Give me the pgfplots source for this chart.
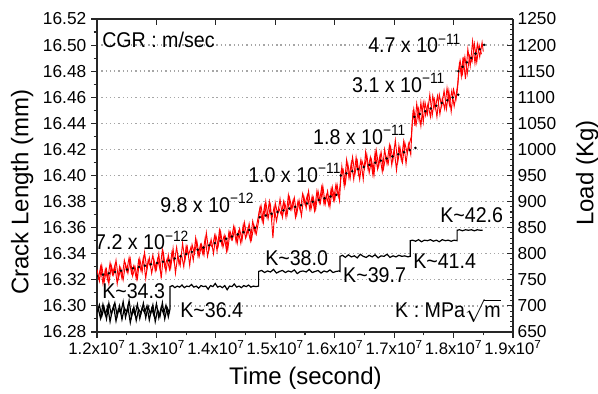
\documentclass[border=0pt]{standalone}
\usepackage{pgfplots}
\pgfplotsset{compat=1.18}
\usepackage{fontspec}
\setmainfont{Liberation Sans}
\newfontfamily\annfont[FakeStretch=0.92]{Liberation Sans}
\newcommand{\ann}{\annfont\fontsize{16}{18}\selectfont}
\newcommand{\tickfont}{\fontsize{13}{15}\selectfont}
\newcommand{\labfont}{\fontsize{18}{21}\selectfont}
\begin{document}
\begin{tikzpicture}
% ---------------- left axis: crack length ----------------
\begin{axis}[
  scale only axis, width=312pt, height=234.75pt,
  xmin=12, xmax=19, ymin=16.28, ymax=16.52,
  axis x line*=bottom, axis y line*=left,
  axis line style={line width=0.9pt, black!85},
  tick align=outside,
  xtick={12,13,14,15,16,17,18,19}, minor x tick num=1,
  ytick={16.28,16.30,16.32,16.34,16.36,16.38,16.40,16.42,16.44,16.46,16.48,16.50,16.52},
  minor y tick num=1,
  major tick length=4.5pt, minor tick length=2.5pt,
  every tick/.style={line width=0.8pt, black!85},
  xticklabels={1.2x10\textsuperscript{7},1.3x10\textsuperscript{7},1.4x10\textsuperscript{7},1.5x10\textsuperscript{7},1.6x10\textsuperscript{7},1.7x10\textsuperscript{7},1.8x10\textsuperscript{7},1.9x10\textsuperscript{7}},
  xticklabel style={font=\fontsize{12.5}{14}\selectfont, inner sep=1pt, yshift=-1pt},
  yticklabel style={font=\tickfont, /pgf/number format/.cd, fixed, fixed zerofill, precision=2, assume math mode=true},
  ymajorgrids, major grid style={line width=1pt, gray!70, dash pattern=on 1pt off 2.2pt},
  xlabel={Time (second)}, ylabel={Crack Length (mm)},
  every axis x label/.style={at={(axis description cs:0.501,-0.147)}, anchor=center, font=\labfont},
  every axis y label/.style={at={(axis description cs:-0.180,0.447)}, anchor=center, rotate=90, font=\labfont},
]
\addplot[red, line width=0.7pt] coordinates {
(12.00,16.328)(12.04,16.319)(12.08,16.331)(12.12,16.318)(12.16,16.328)(12.20,16.317)(12.24,16.331)(12.28,16.324)(12.32,16.335)(12.36,16.321)(12.40,16.329)(12.44,16.320)(12.48,16.332)(12.52,16.325)(12.56,16.336)(12.60,16.323)(12.64,16.330)(12.68,16.321)(12.72,16.336)(12.76,16.326)(12.80,16.341)(12.84,16.328)(12.88,16.337)(12.92,16.325)(12.96,16.335)(13.00,16.328)(13.04,16.340)(13.08,16.321)(13.12,16.340)(13.16,16.326)(13.20,16.339)
(13.24,16.329)(13.28,16.344)(13.32,16.325)(13.36,16.339)(13.40,16.331)(13.44,16.348)(13.48,16.335)(13.52,16.345)(13.56,16.331)(13.60,16.347)(13.64,16.340)(13.68,16.350)(13.72,16.338)(13.76,16.347)(13.80,16.339)(13.84,16.356)(13.88,16.342)(13.92,16.351)(13.96,16.340)(14.00,16.354)(14.04,16.346)(14.08,16.357)(14.12,16.345)(14.16,16.353)(14.20,16.343)(14.24,16.357)(14.28,16.351)(14.32,16.360)(14.36,16.348)(14.40,16.359)(14.44,16.350)(14.48,16.364)(14.52,16.354)(14.56,16.363)(14.60,16.351)(14.64,16.362)(14.68,16.355)(14.72,16.365)
(14.73,16.372)
(14.76,16.377)(14.80,16.364)(14.84,16.380)(14.88,16.367)(14.92,16.377)(14.96,16.352)(15.00,16.379)(15.04,16.370)(15.08,16.382)(15.12,16.368)(15.16,16.379)(15.20,16.370)(15.24,16.383)(15.28,16.374)(15.32,16.383)(15.36,16.370)(15.40,16.381)(15.44,16.369)(15.48,16.384)(15.52,16.375)(15.56,16.388)(15.60,16.374)(15.64,16.383)(15.68,16.374)(15.72,16.388)(15.76,16.379)(15.80,16.392)(15.84,16.378)(15.88,16.388)(15.92,16.376)(15.96,16.391)(16.00,16.381)(16.04,16.393)(16.08,16.381)
(16.10,16.396)
(16.12,16.407)(16.16,16.392)(16.20,16.412)(16.24,16.398)(16.28,16.410)(16.32,16.397)(16.36,16.414)(16.40,16.401)(16.44,16.412)(16.48,16.397)(16.52,16.418)(16.56,16.405)(16.60,16.414)(16.64,16.401)(16.68,16.418)(16.72,16.405)(16.76,16.415)(16.80,16.403)(16.84,16.420)(16.88,16.409)(16.92,16.423)(16.96,16.408)(17.00,16.420)(17.04,16.404)(17.08,16.423)(17.12,16.412)(17.16,16.426)(17.20,16.409)(17.24,16.424)(17.28,16.416)
(17.30,16.437)(17.32,16.450)
(17.35,16.438)(17.38,16.455)(17.42,16.442)(17.45,16.456)(17.49,16.441)(17.52,16.456)(17.56,16.447)(17.60,16.462)(17.64,16.446)(17.68,16.458)(17.72,16.445)(17.76,16.462)(17.80,16.453)(17.84,16.465)(17.88,16.451)(17.92,16.465)(17.96,16.449)(18.00,16.466)(18.04,16.458)(18.06,16.464)
(18.08,16.474)(18.10,16.487)
(18.13,16.476)(18.16,16.491)(18.20,16.474)(18.24,16.497)(18.28,16.484)(18.32,16.503)(18.36,16.486)(18.40,16.501)(18.44,16.491)(18.48,16.502)(18.50,16.495)
};
\addplot[red, line width=0.7pt] coordinates {
(12.02,16.320)(12.06,16.330)(12.10,16.317)(12.14,16.328)(12.18,16.320)(12.22,16.333)(12.26,16.324)(12.30,16.331)(12.34,16.317)(12.38,16.330)(12.42,16.321)(12.46,16.335)(12.50,16.327)(12.54,16.337)(12.58,16.325)(12.62,16.331)(12.66,16.321)(12.70,16.335)(12.74,16.327)(12.78,16.337)(12.82,16.321)(12.86,16.335)(12.90,16.330)(12.94,16.339)(12.98,16.327)(13.02,16.336)(13.06,16.328)(13.10,16.343)(13.14,16.330)(13.18,16.336)(13.22,16.328)
(13.26,16.341)(13.30,16.333)(13.34,16.345)(13.38,16.332)(13.42,16.340)(13.46,16.330)(13.50,16.346)(13.54,16.339)(13.58,16.345)(13.62,16.335)(13.66,16.352)(13.70,16.338)(13.74,16.347)(13.78,16.340)(13.82,16.352)(13.86,16.338)(13.90,16.348)(13.94,16.345)(13.98,16.354)(14.02,16.342)(14.06,16.358)(14.10,16.347)(14.14,16.354)(14.18,16.342)(14.22,16.357)(14.26,16.351)(14.30,16.361)(14.34,16.349)(14.38,16.357)(14.42,16.348)(14.46,16.362)(14.50,16.352)(14.54,16.359)(14.58,16.350)(14.62,16.365)(14.66,16.356)(14.70,16.365)
(14.74,16.375)
(14.78,16.365)(14.82,16.377)(14.86,16.368)(14.90,16.380)(14.94,16.366)(14.98,16.376)(15.02,16.365)(15.06,16.375)(15.10,16.370)(15.14,16.380)(15.18,16.368)(15.22,16.385)(15.26,16.374)(15.30,16.381)(15.34,16.368)(15.38,16.380)(15.42,16.373)(15.46,16.386)(15.50,16.378)(15.54,16.385)(15.58,16.374)(15.62,16.384)(15.66,16.373)(15.70,16.388)(15.74,16.379)(15.78,16.391)(15.82,16.378)(15.86,16.385)(15.90,16.377)(15.94,16.390)(15.98,16.381)(16.02,16.393)(16.06,16.384)
(16.09,16.392)(16.11,16.404)
(16.14,16.405)(16.18,16.394)(16.22,16.409)(16.26,16.398)(16.30,16.414)(16.34,16.401)(16.38,16.411)(16.42,16.397)(16.46,16.411)(16.50,16.405)(16.54,16.416)(16.58,16.402)(16.62,16.412)(16.66,16.400)(16.70,16.419)(16.74,16.407)(16.78,16.418)(16.82,16.405)(16.86,16.415)(16.90,16.409)(16.94,16.422)(16.98,16.412)(17.02,16.427)(17.06,16.410)(17.10,16.421)(17.14,16.410)(17.18,16.425)(17.22,16.417)(17.26,16.425)
(17.29,16.430)(17.31,16.444)
(17.33,16.451)(17.37,16.439)(17.41,16.451)(17.45,16.438)(17.49,16.456)(17.53,16.446)(17.57,16.455)(17.61,16.445)(17.65,16.461)(17.69,16.451)(17.73,16.461)(17.77,16.447)(17.81,16.459)(17.85,16.451)(17.89,16.467)(17.93,16.454)(17.97,16.465)(18.01,16.453)(18.05,16.464)
(18.07,16.470)(18.09,16.482)
(18.11,16.488)(18.15,16.478)(18.19,16.491)(18.23,16.478)(18.27,16.492)(18.31,16.487)(18.35,16.501)(18.39,16.487)(18.43,16.500)(18.47,16.493)
};
% trend lines (dotted)
\pgfplotsset{trend/.style={black, line width=2.1pt, line cap=round, dash pattern=on 0pt off 4.6pt}}
\addplot[trend] coordinates {(12.00,16.323)(13.23,16.335)(14.72,16.361)};
\addplot[trend] coordinates {(14.74,16.368)(16.09,16.386)};
\addplot[trend] coordinates {(16.10,16.400)(17.38,16.4215)};
\addplot[trend] coordinates {(17.34,16.445)(18.08,16.462)};
\addplot[trend] coordinates {(18.08,16.480)(18.52,16.5005)};
\coordinate (bl) at (rel axis cs:0,0);
\coordinate (tr) at (rel axis cs:1,1);
\end{axis}
% ---------------- right axis: load ----------------
\begin{axis}[
  scale only axis, width=312pt, height=234.75pt,
  xmin=12, xmax=19, ymin=650, ymax=1250,
  axis x line*=top, axis y line*=right,
  axis line style={line width=0.9pt, black!85},
  tick align=inside,
  xtick={12,13,14,15,16,17,18,19}, xticklabels={},
  ytick={650,700,750,800,850,900,950,1000,1050,1100,1150,1200,1250},
  minor y tick num=4,
  major tick length=4.5pt, minor tick length=2.5pt,
  every tick/.style={line width=0.8pt, black!85},
  yticklabel style={font=\tickfont, /pgf/number format/.cd, 1000 sep={}, assume math mode=true},
  ylabel={Load (Kg)},
  every axis y label/.style={at={(axis description cs:1.178,0.508)}, anchor=center, rotate=90, font=\labfont},
]
\addplot[black, line width=0.9pt] coordinates {
(12.00,688)(12.04,702)(12.08,680)(12.12,697)(12.16,675)(12.20,705)(12.24,684)(12.28,699)(12.32,671)(12.36,694)(12.40,686)(12.44,708)(12.48,678)(12.52,698)(12.56,668)(12.60,692)(12.64,683)(12.68,703)(12.72,676)(12.76,696)(12.80,687)(12.84,700)(12.88,673)(12.92,695)(12.96,681)(13.00,704)(13.04,677)(13.08,697)(13.12,685)(13.16,701)(13.20,679)(13.23,695)
(13.23,737)(13.27,739)(13.31,735)(13.35,738)(13.39,736)(13.43,740)(13.47,735)(13.51,738)(13.55,737)(13.59,741)(13.63,736)(13.67,738)(13.71,734)(13.75,739)(13.79,737)(13.83,738)(13.87,732)(13.91,739)(13.95,737)(13.99,743)(14.03,736)(14.07,738)(14.11,735)(14.15,739)(14.19,731)(14.23,738)(14.27,737)(14.31,742)(14.35,736)(14.39,738)(14.43,735)(14.47,739)(14.51,737)(14.55,740)(14.59,736)(14.63,738)(14.67,737)(14.72,738)
(14.72,766)(14.77,768)(14.82,764)(14.87,767)(14.92,765)(14.97,770)(15.02,763)(15.07,766)(15.12,768)(15.17,764)(15.22,767)(15.27,765)(15.32,769)(15.37,762)(15.42,766)(15.47,767)(15.52,765)(15.57,770)(15.62,764)(15.67,766)(15.72,768)(15.77,763)(15.82,767)(15.87,765)(15.92,769)(15.97,764)(16.02,766)(16.07,767)(16.09,766)
(16.09,795)(16.13,797)(16.18,793)(16.23,798)(16.28,794)(16.33,796)(16.38,792)(16.43,799)(16.48,795)(16.53,793)(16.58,797)(16.63,794)(16.68,798)(16.73,792)(16.78,796)(16.83,795)(16.88,799)(16.93,793)(16.98,796)(17.03,794)(17.08,797)(17.13,795)(17.18,796)(17.23,794)(17.27,795)
(17.27,825)(17.31,826)(17.36,824)(17.41,827)(17.46,823)(17.51,826)(17.56,825)(17.61,827)(17.66,824)(17.71,826)(17.76,823)(17.81,827)(17.86,825)(17.91,826)(17.96,824)(18.01,826)(18.06,825)
(18.06,845)(18.10,846)(18.15,844)(18.20,846)(18.25,845)(18.30,846)(18.35,844)(18.40,846)(18.45,845)(18.49,845)
};
\addplot[black, line width=0.9pt] coordinates {
(12.02,695)(12.06,676)(12.10,703)(12.14,683)(12.18,699)(12.22,670)(12.26,693)(12.30,706)(12.34,681)(12.38,700)(12.42,674)(12.46,696)(12.50,688)(12.54,710)(12.58,679)(12.62,698)(12.66,672)(12.70,694)(12.74,686)(12.78,705)(12.82,677)(12.86,699)(12.90,684)(12.94,702)(12.98,670)(13.02,693)(13.06,680)(13.10,706)(13.14,675)(13.18,697)(13.22,686)
};
% annotations
\begin{scope}[every node/.style={anchor=base west, inner sep=0pt, font=\ann}]
\node at (axis cs:12.084,1194.5) {CGR : m/sec};
\node at (axis cs:16.56,1185) {4.7 x 10\textsuperscript{−11}};
\node at (axis cs:16.29,1110) {3.1 x 10\textsuperscript{−11}};
\node at (axis cs:15.634,1010) {1.8 x 10\textsuperscript{−11}};
\node at (axis cs:14.541,937.5) {1.0 x 10\textsuperscript{−11}};
\node at (axis cs:13.06,880) {9.8 x 10\textsuperscript{−12}};
\node at (axis cs:11.966,807.5) {7.2 x 10\textsuperscript{−12}};
\node at (axis cs:12.084,715) {K\textasciitilde 34.3};
\node at (axis cs:13.397,677.5) {K\textasciitilde 36.4};
\node at (axis cs:14.827,777.5) {K\textasciitilde 38.0};
\node at (axis cs:16.139,745) {K\textasciitilde 39.7};
\node at (axis cs:17.317,772.5) {K\textasciitilde 41.4};
\node at (axis cs:17.772,860) {K\textasciitilde 42.6};
\node at (axis cs:17.014,677.5) {K : MPa$\sqrt{\mbox{m}}$};
\end{scope}
\end{axis}
\pgfresetboundingbox
\path ([shift={(-72.75pt,-46.5pt)}]bl) rectangle ([shift={(63.75pt,14.25pt)}]tr);
\end{tikzpicture}
\end{document}
